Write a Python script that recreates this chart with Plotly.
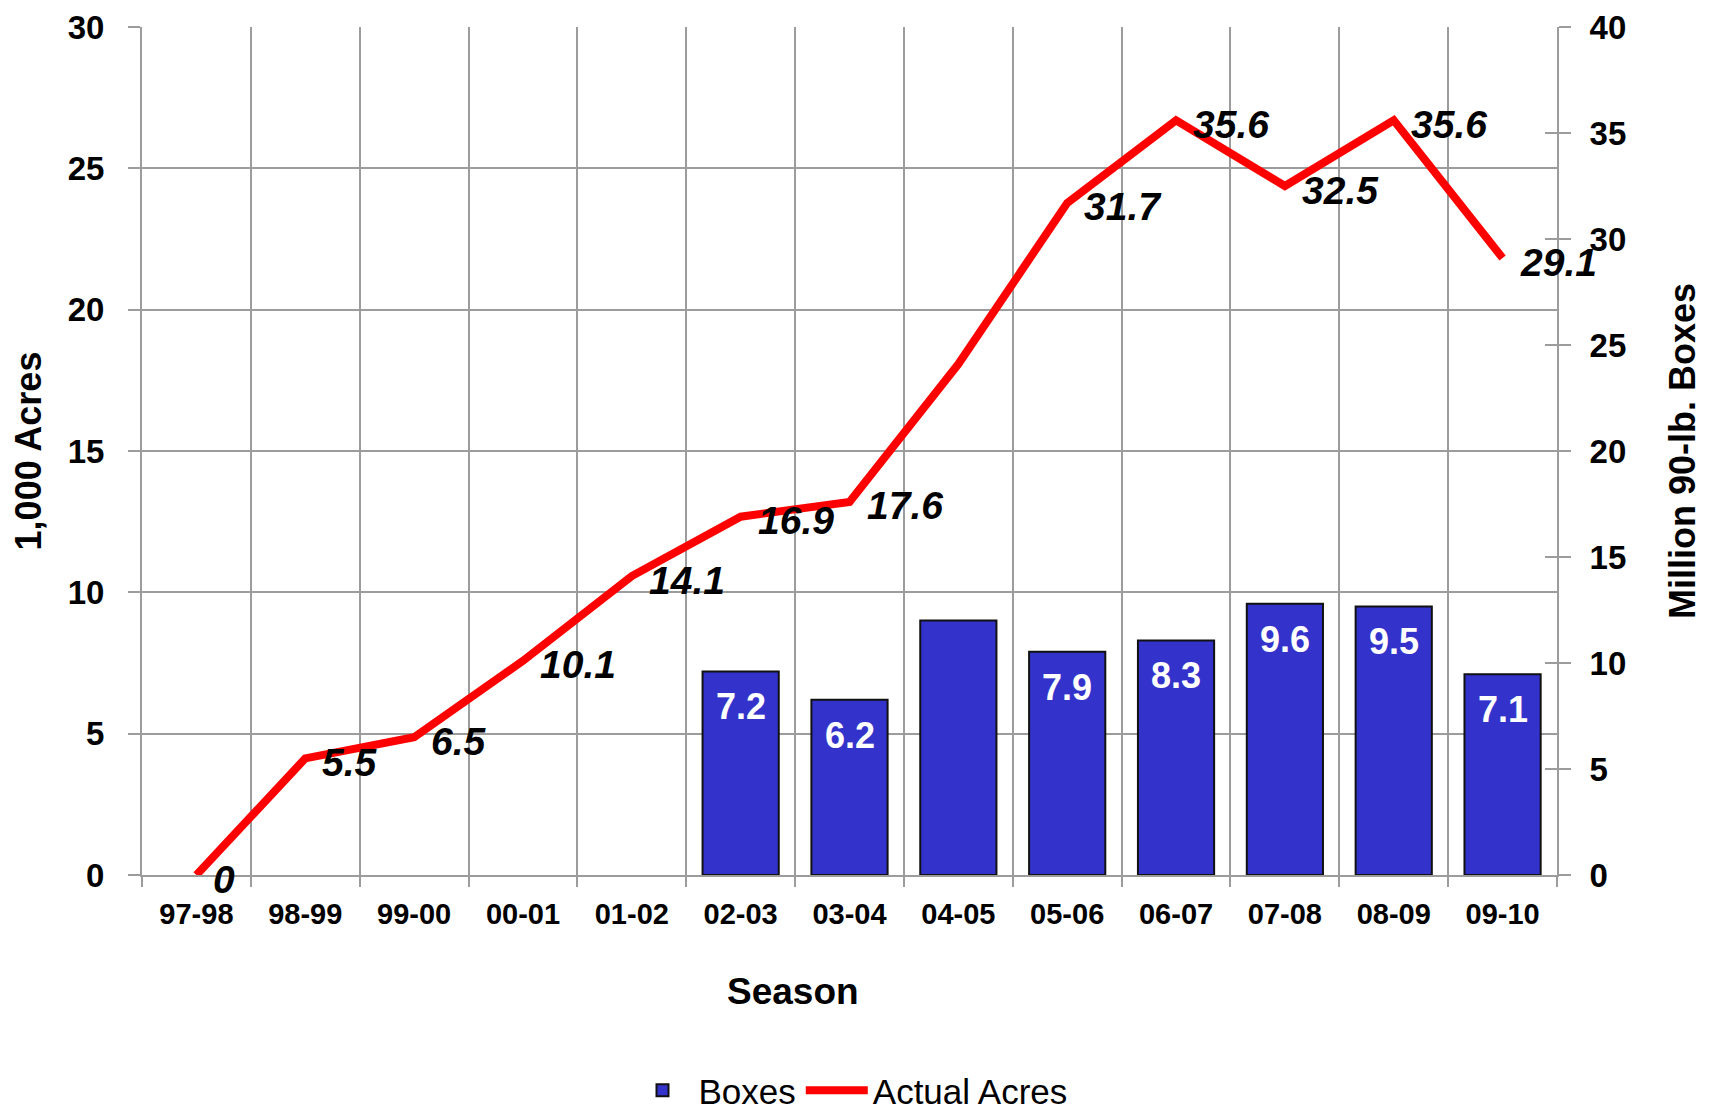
import plotly.graph_objects as go

seasons = ["97-98", "98-99", "99-00", "00-01", "01-02", "02-03", "03-04",
           "04-05", "05-06", "06-07", "07-08", "08-09", "09-10"]
boxes = [None, None, None, None, None, 7.2, 6.2, 9.0, 7.9, 8.3, 9.6, 9.5, 7.1]
box_labels = ["", "", "", "", "", "7.2", "6.2", "", "7.9", "8.3", "9.6", "9.5", "7.1"]
acres = [0, 5.5, 6.5, 10.1, 14.1, 16.9, 17.6, 24.1, 31.7, 35.6, 32.5, 35.6, 29.1]
acre_labels = ["0", "5.5", "6.5", "10.1", "14.1", "16.9", "17.6", "", "31.7",
               "35.6", "32.5", "35.6", "29.1"]
left_ticks = [0, 5, 10, 15, 20, 25, 30]
right_ticks = [0, 5, 10, 15, 20, 25, 30, 35, 40]

FONT = "Liberation Sans, Arial, sans-serif"
GRID = "#9c9c9c"
W, H = 1695, 1103

fig = go.Figure()
fig.add_trace(go.Bar(
    x=seasons, y=boxes, name="Boxes", width=0.7,
    marker=dict(color="#3333CC", line=dict(color="#111111", width=2)),
    yaxis="y", hoverinfo="x+y",
))
fig.add_trace(go.Scatter(
    x=seasons, y=acres, name="Actual Acres", mode="lines",
    line=dict(color="#FF0000", width=8), yaxis="y2",
))

annotations = []
for s, v, t in zip(seasons, boxes, box_labels):
    if t:
        annotations.append(dict(
            x=s, y=v, xref="x", yref="y", text=t, showarrow=False,
            xanchor="center", yanchor="top", yshift=-13,
            font=dict(family=FONT, size=36, color="white", weight="bold"),
        ))
for s, v, t in zip(seasons, acres, acre_labels):
    if t:
        annotations.append(dict(
            x=s, y=v, xref="x", yref="y2", text=t, showarrow=False,
            xanchor="left", yanchor="middle",
            xshift=15, yshift=-4,
            font=dict(family=FONT, size=39, color="black", weight="bold", style="italic"),
        ))
annotations.append(dict(
    x=0.46, y=-0.137, xref="paper", yref="paper", text="Season", showarrow=False,
    xanchor="center", yanchor="middle",
    font=dict(family=FONT, size=37, color="black", weight="bold"),
))

fig.update_layout(
    width=W, height=H,
    margin=dict(l=134, r=146, t=19, b=236, autoexpand=False),
    plot_bgcolor="white", paper_bgcolor="white",
    font=dict(family=FONT, color="black"),
    showlegend=True,
    legend=dict(
        orientation="h", x=0.5, xanchor="center", y=-0.254, yanchor="middle",
        font=dict(family=FONT, size=35, color="black"), itemwidth=62,
        traceorder="normal",
    ),
    xaxis=dict(
        type="category", categoryorder="array", categoryarray=seasons,
        range=[-0.5, len(seasons) - 0.5], automargin=False,
        tickson="boundaries", showgrid=True, gridcolor=GRID, gridwidth=2,
        ticks="outside", ticklen=10, tickcolor=GRID, tickwidth=2,
        showline=True, linecolor=GRID, linewidth=2,
        ticklabelstandoff=12,
        tickfont=dict(family=FONT, size=29, color="black", weight="bold"),
    ),
    yaxis=dict(
        range=[0, 30], tickvals=left_ticks, showgrid=True, gridcolor=GRID, gridwidth=2,
        zeroline=False, showline=True, linecolor=GRID, linewidth=2, automargin=False,
        ticks="outside", ticklen=12, tickcolor=GRID, tickwidth=2,
        ticklabelstandoff=17,
        tickfont=dict(family=FONT, size=33, color="black", weight="bold"),
        title=dict(text="1,000 Acres", standoff=18,
                   font=dict(family=FONT, size=36, color="black", weight="bold")),
    ),
    yaxis2=dict(
        range=[0, 40], tickvals=right_ticks, overlaying="y", side="right",
        showgrid=False, zeroline=False, showline=True, linecolor=GRID, linewidth=2,
        automargin=False,
        ticks="outside", ticklen=12, tickcolor=GRID, tickwidth=2,
        ticklabelstandoff=12,
        tickfont=dict(family=FONT, size=33, color="black", weight="bold"),
        title=dict(text="Million 90-lb. Boxes", standoff=52,
                   font=dict(family=FONT, size=36, color="black", weight="bold")),
    ),
    yaxis3=dict(
        range=[0, 40], tickvals=right_ticks, overlaying="y", side="right",
        anchor="x", showgrid=False, zeroline=False, showline=False, automargin=False,
        ticks="inside", ticklen=12, tickcolor=GRID, tickwidth=2,
        showticklabels=False,
    ),
    annotations=annotations,
)
# invisible trace to activate the inner tick marks of the right axis
fig.add_trace(go.Scatter(x=[seasons[0]], y=[None], yaxis="y3", showlegend=False,
                         hoverinfo="skip"))

fig.write_html("out.html")
